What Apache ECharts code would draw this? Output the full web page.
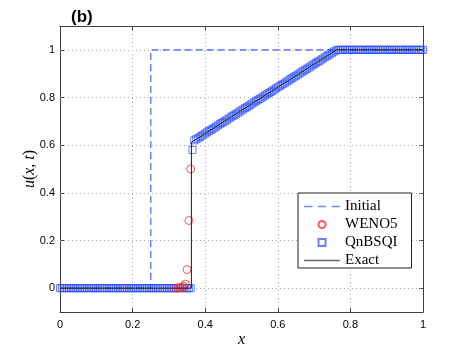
<!DOCTYPE html>
<html>
<head>
    <meta charset="utf-8">
    <title>(b)</title>
    <script src="https://cdn.jsdelivr.net/npm/echarts@6/dist/echarts.min.js"></script>
    <style>
        html, body { margin: 0; padding: 0; background: #fff; }
        #mychart { width: 467px; height: 352px; }
    </style>
</head>
<body>
<div id="mychart"></div>
<script>
    // axis ticks
    var xTicks = [0, 0.2, 0.4, 0.6, 0.8, 1];
    var yTicks = [0, 0.2, 0.4, 0.6, 0.8, 1];

    // initial condition (dashed)
    var initX = [0, 0.25, 0.25, 1];
    var initU = [0, 0, 1, 1];

    // exact solution
    var exactX = [0, 0.362, 0.362, 0.762, 1];
    var exactU = [0, 0, 0.612, 1, 1];

    // WENO5 points that show around the shock
    var wenoX = [0.32, 0.325, 0.33, 0.335, 0.34, 0.345, 0.35, 0.355, 0.36];
    var wenoU = [0, 0.001, 0.002, 0.004, 0.008, 0.017, 0.078, 0.284, 0.50];

    // QnBSQI points
    var qnX = [
        0, 0.005, 0.01, 0.015, 0.02, 0.025, 0.03, 0.035, 0.04, 0.045,
        0.05, 0.055, 0.06, 0.065, 0.07, 0.075, 0.08, 0.085, 0.09, 0.095,
        0.1, 0.105, 0.11, 0.115, 0.12, 0.125, 0.13, 0.135, 0.14, 0.145,
        0.15, 0.155, 0.16, 0.165, 0.17, 0.175, 0.18, 0.185, 0.19, 0.195,
        0.2, 0.205, 0.21, 0.215, 0.22, 0.225, 0.23, 0.235, 0.24, 0.245,
        0.25, 0.255, 0.26, 0.265, 0.27, 0.275, 0.28, 0.285, 0.29, 0.295,
        0.3, 0.305, 0.31, 0.315, 0.32, 0.325, 0.33, 0.335, 0.34, 0.345,
        0.35, 0.355, 0.36, 0.365, 0.37, 0.375, 0.38, 0.385, 0.39, 0.395,
        0.4, 0.405, 0.41, 0.415, 0.42, 0.425, 0.43, 0.435, 0.44, 0.445,
        0.45, 0.455, 0.46, 0.465, 0.47, 0.475, 0.48, 0.485, 0.49, 0.495,
        0.5, 0.505, 0.51, 0.515, 0.52, 0.525, 0.53, 0.535, 0.54, 0.545,
        0.55, 0.555, 0.56, 0.565, 0.57, 0.575, 0.58, 0.585, 0.59, 0.595,
        0.6, 0.605, 0.61, 0.615, 0.62, 0.625, 0.63, 0.635, 0.64, 0.645,
        0.65, 0.655, 0.66, 0.665, 0.67, 0.675, 0.68, 0.685, 0.69, 0.695,
        0.7, 0.705, 0.71, 0.715, 0.72, 0.725, 0.73, 0.735, 0.74, 0.745,
        0.75, 0.755, 0.76, 0.765, 0.77, 0.775, 0.78, 0.785, 0.79, 0.795,
        0.8, 0.805, 0.81, 0.815, 0.82, 0.825, 0.83, 0.835, 0.84, 0.845,
        0.85, 0.855, 0.86, 0.865, 0.87, 0.875, 0.88, 0.885, 0.89, 0.895,
        0.9, 0.905, 0.91, 0.915, 0.92, 0.925, 0.93, 0.935, 0.94, 0.945,
        0.95, 0.955, 0.96, 0.965, 0.97, 0.975, 0.98, 0.985, 0.99, 0.995,
        1
    ];
    var qnU = [
        0, 0, 0, 0, 0, 0, 0, 0, 0, 0,
        0, 0, 0, 0, 0, 0, 0, 0, 0, 0,
        0, 0, 0, 0, 0, 0, 0, 0, 0, 0,
        0, 0, 0, 0, 0, 0, 0, 0, 0, 0,
        0, 0, 0, 0, 0, 0, 0, 0, 0, 0,
        0, 0, 0, 0, 0, 0, 0, 0, 0, 0,
        0, 0, 0, 0, 0, 0, 0, 0, 0, 0,
        0, 0, 0, 0.58, 0.620, 0.625, 0.629, 0.634, 0.639, 0.644,
        0.649, 0.654, 0.659, 0.663, 0.668, 0.673, 0.678, 0.683, 0.688, 0.693,
        0.697, 0.702, 0.707, 0.712, 0.717, 0.722, 0.726, 0.731, 0.736, 0.741,
        0.746, 0.751, 0.756, 0.760, 0.765, 0.770, 0.775, 0.780, 0.785, 0.790,
        0.794, 0.799, 0.804, 0.809, 0.814, 0.819, 0.823, 0.828, 0.833, 0.838,
        0.843, 0.848, 0.853, 0.857, 0.862, 0.867, 0.872, 0.877, 0.882, 0.887,
        0.891, 0.896, 0.901, 0.906, 0.911, 0.916, 0.920, 0.925, 0.930, 0.935,
        0.940, 0.945, 0.950, 0.954, 0.959, 0.964, 0.969, 0.974, 0.979, 0.984,
        0.988, 0.993, 0.997, 1, 1, 1, 1, 1, 1, 1,
        1, 1, 1, 1, 1, 1, 1, 1, 1, 1,
        1, 1, 1, 1, 1, 1, 1, 1, 1, 1,
        1, 1, 1, 1, 1, 1, 1, 1, 1, 1,
        1, 1, 1, 1, 1, 1, 1, 1, 1, 1,
        1
    ];

    function zip(xs, ys) {
        let out = [];
        for (let i = 0; i < xs.length; i++) {
            out.push([xs[i], ys[i]]);
        }
        return out;
    }

    var frameColor = '#404040';
    var initColor = '#6d8cf8';
    var exactColor = '#1a1a1a';
    var gridStyle = { color: '#a8a8a8', width: 1, type: [1, 3] };
    var labelFont = { color: '#000', fontSize: 11, fontFamily: 'Liberation Sans' };
    var legendFont = { fontSize: 15, fontFamily: 'Liberation Serif', color: '#000', lineHeight: 13 };

    var myChart = echarts.init(document.getElementById('mychart'));
    var option = {
        animation: false,
        backgroundColor: '#fff',
        title: {
            text: '(b)',
            left: 66,
            top: 4,
            textStyle: { fontSize: 17, fontWeight: 'bold', fontFamily: 'Liberation Sans', color: '#000' }
        },
        grid: { left: 60, right: 44, top: 26, bottom: 40, containLabel: false, outerBoundsMode: 'none' },
        legend: {
            data: [
                { name: 'Initial', icon: 'path://M0,0h8v1.6h-8z M13,0h8v1.6h-8z M26,0h8v1.6h-8z', itemStyle: { color: initColor } },
                { name: 'WENO5', icon: 'circle' },
                { name: 'QnBSQI', icon: 'path://M0,0h7v7h-7z' },
                { name: 'Exact', icon: 'path://M0,0h34v1.4h-34z', itemStyle: { color: '#6a6a6a' } }
            ],
            orient: 'vertical',
            left: 298,
            top: 193,
            itemWidth: 36,
            itemHeight: 7,
            itemGap: 3,
            padding: [6, 14, 0, 6],
            backgroundColor: '#fff',
            borderColor: '#222',
            borderWidth: 1,
            borderRadius: 0,
            textStyle: legendFont
        },
        xAxis: [
            {
                type: 'value',
                min: 0,
                max: 1,
                interval: 0.2,
                name: 'x',
                nameLocation: 'middle',
                nameGap: 20,
                nameMoveOverlap: false,
                nameTextStyle: { fontSize: 16, fontStyle: 'italic', fontFamily: 'Liberation Serif', color: '#000' },
                axisLine: { onZero: false, lineStyle: { color: frameColor, width: 1 } },
                axisTick: { inside: true, length: 4, lineStyle: { color: frameColor } },
                axisLabel: Object.assign({ margin: 7 }, labelFont),
                splitLine: { show: true, lineStyle: gridStyle }
            },
            {
                type: 'value',
                position: 'top',
                min: 0,
                max: 1,
                interval: 0.2,
                axisLine: { onZero: false, lineStyle: { color: frameColor, width: 1 } },
                axisTick: { inside: true, length: 4, lineStyle: { color: frameColor } },
                axisLabel: { show: false },
                splitLine: { show: false }
            }
        ],
        yAxis: [
            {
                type: 'value',
                min: -0.1,
                max: 1.1,
                name: '{i|u}{n|(}{i|x}{n|, }{i|t}{n|)}',
                nameLocation: 'middle',
                nameRotate: 90,
                nameGap: 22,
                nameMoveOverlap: false,
                nameTextStyle: {
                    rich: {
                        i: { fontSize: 16, fontStyle: 'italic', fontFamily: 'Liberation Serif', color: '#000' },
                        n: { fontSize: 16, fontFamily: 'Liberation Serif', color: '#000' }
                    }
                },
                axisLine: { onZero: false, lineStyle: { color: frameColor, width: 1 } },
                axisTick: { inside: true, length: 4, customValues: yTicks, lineStyle: { color: frameColor } },
                axisLabel: Object.assign({ margin: 5, customValues: yTicks }, labelFont),
                splitLine: { show: false }
            },
            {
                type: 'value',
                position: 'right',
                min: -0.1,
                max: 1.1,
                axisLine: { onZero: false, lineStyle: { color: frameColor, width: 1 } },
                axisTick: { inside: true, length: 4, customValues: yTicks, lineStyle: { color: frameColor } },
                axisLabel: { show: false },
                splitLine: { show: false }
            }
        ],
        series: [
            {
                name: 'Initial',
                type: 'line',
                data: zip(initX, initU),
                symbol: 'none',
                z: 2,
                lineStyle: { color: initColor, width: 1.6, type: [7, 4] },
                itemStyle: { color: initColor },
                markLine: {
                    silent: true,
                    z: 1,
                    symbol: ['none', 'none'],
                    label: { show: false },
                    lineStyle: gridStyle,
                    emphasis: { disabled: true },
                    data: yTicks.map(function (v) { return { yAxis: v }; })
                }
            },
            {
                name: 'QnBSQI',
                type: 'scatter',
                data: zip(qnX, qnU),
                symbol: 'rect',
                symbolSize: 7,
                z: 3,
                itemStyle: { color: 'rgba(0,0,0,0)', borderColor: 'rgba(45,80,255,0.9)', borderWidth: 1 }
            },
            {
                name: 'WENO5',
                type: 'scatter',
                data: zip(wenoX, wenoU),
                symbol: 'circle',
                symbolSize: 8,
                z: 4,
                itemStyle: { color: 'rgba(0,0,0,0)', borderColor: '#ff2a2a', borderWidth: 1 }
            },
            {
                name: 'Exact',
                type: 'line',
                data: zip(exactX, exactU),
                symbol: 'none',
                z: 5,
                lineStyle: { color: exactColor, width: 1 },
                itemStyle: { color: exactColor }
            }
        ]
    };
    myChart.setOption(option);
</script>
</body>
</html>
